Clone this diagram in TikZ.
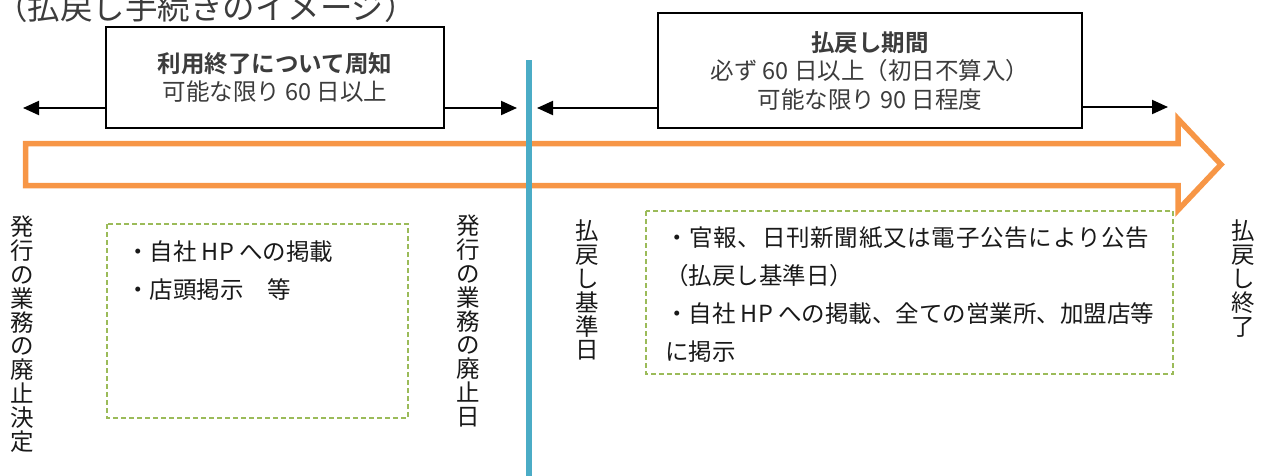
\documentclass[tikz,border=0pt]{standalone}
\usepackage{fontspec}
\setmainfont{Noto Sans CJK JP}[BoldFont={Noto Sans CJK JP Bold}]
\usetikzlibrary{arrows.meta}
\definecolor{orangeA}{HTML}{F79646}
\definecolor{blueA}{HTML}{4BACC6}
\definecolor{greenA}{HTML}{9BBB59}
\definecolor{txtgray}{HTML}{3C3C3C}
\tikzset{
  infobox/.style={draw=black, line width=2pt, fill=white, inner sep=0pt, align=center, text=txtgray,
    font=\fontsize{23.5}{28.5}\selectfont},
  arr/.style={line width=2pt, -{Triangle[length=16pt,width=14pt]}},
  notebox/.style={draw=greenA, line width=1.5pt, dash pattern=on 5pt off 3pt},
  notetext/.style={inner sep=0pt, align=left, text=black!90, font=\fontsize{23.5}{38}\selectfont},
  vlabel/.style={inner sep=0pt, anchor=north, align=center, text=black!90, font=\fontsize{23.5}{23.8}\selectfont},
}
\begin{document}
\begin{tikzpicture}[x=1pt,y=-1pt]
\useasboundingbox (0,0) rectangle (1270,475);
% title (cut at the top)
\node[inner sep=0pt, text=txtgray, font=\fontsize{32.5}{32.5}\selectfont] (title) at (206,7) {（払戻し手続きのイメージ）};
% orange hollow arrow
\draw[orangeA, line width=5.5pt, miter limit=10] (25.5,143.5) -- (1178,143.5) -- (1178,119) -- (1221,164.5) -- (1178,210) -- (1178,185.5) -- (25.5,185.5) -- cycle;
% blue vertical line
\coordinate (bt) at (529,60);
\coordinate (bb) at (529,476);
\draw[blueA, line width=6pt] (bt) -- (bb);
% boxes
\node[infobox, minimum width=338pt, minimum height=101pt] (box1) at (275,77.5) {\textbf{利用終了について周知}\\可能な限り 60 日以上};
\node[infobox, minimum width=424pt, minimum height=115pt] (box2) at (870,70.5) {\textbf{払戻し期間}\\必ず 60 日以上（初日不算入）\\可能な限り 90 日程度};
% arrows
\coordinate (t1) at (23,108);
\coordinate (t2) at (517,108);
\coordinate (t3) at (537,108);
\coordinate (t4) at (1168,107);
\draw[arr] (box1.west |- t1) -- (t1);
\draw[arr] (box1.east |- t2) -- (t2);
\draw[arr] (box2.west |- t3) -- (t3);
\draw[arr] (box2.east |- t4) -- (t4);
% dashed note boxes
\draw[notebox] (107,224) rectangle (408,418);
\node[notetext, anchor=west] (n1) at (126,271) {・自社 HP への掲載\\・店頭掲示　等};
\draw[notebox] (646,211) rectangle (1173,374);
\node[notetext, anchor=west] (n2) at (665,295) {{\addfontfeature{LetterSpace=3.2}・官報、日刊新聞紙又は電子公告により公告}\\（払戻し基準日）\\・自社 HP への掲載、全ての営業所、加盟店等\\に掲示};
% vertical labels
\node[vlabel] (v1) at (22,216) {発\\行\\の\\業\\務\\の\\廃\\止\\決\\定};
\node[vlabel] (v2) at (468,215) {発\\行\\の\\業\\務\\の\\廃\\止\\日};
\node[vlabel] (v3) at (587,220) {払\\戻\\し\\基\\準\\日};
\node[vlabel] (v4) at (1243,220) {払\\戻\\し\\終\\了};
\end{tikzpicture}
\end{document}
